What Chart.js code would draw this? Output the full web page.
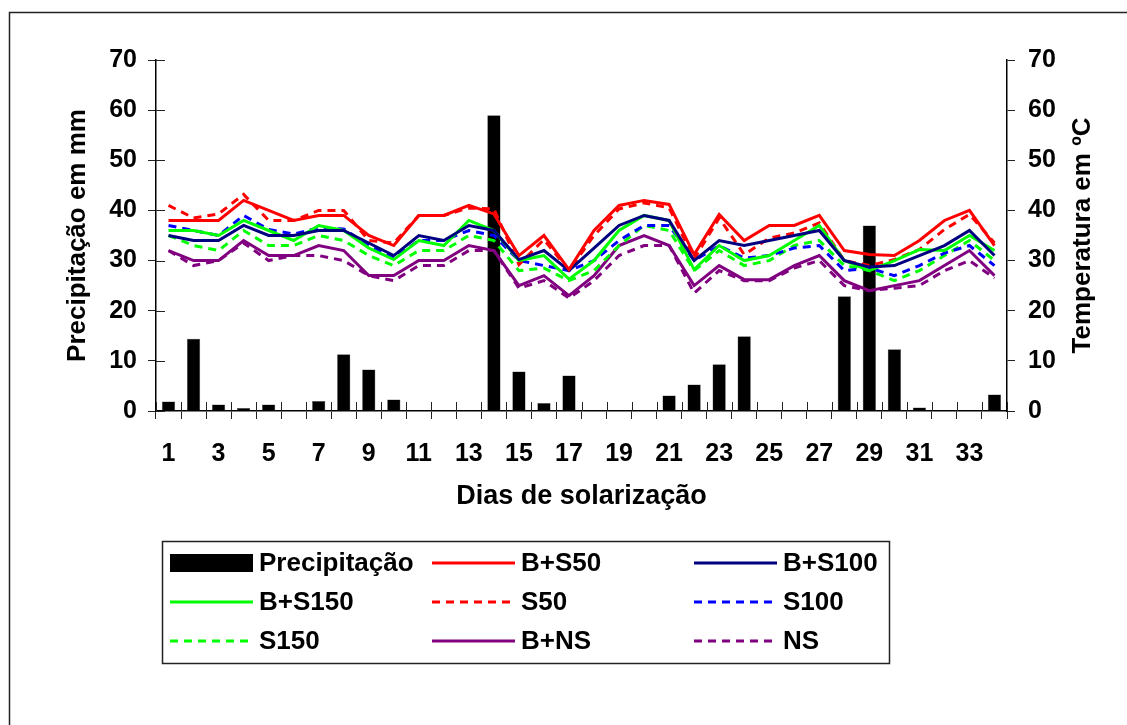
<!DOCTYPE html>
<html>
<head>
<meta charset="utf-8">
<script src="https://cdn.jsdelivr.net/npm/chart.js@4/dist/chart.umd.min.js"></script>
<style>
html,body{margin:0;padding:0;background:#fff;}
#wrap{width:1127px;height:725px;position:relative;}
</style>
</head>
<body>
<div id="wrap"><canvas id="c" width="1127" height="725"></canvas></div>
<script>
const days = Array.from({length:34}, (_, i) => String(i + 1));
const precipitacao = [1.9,14.4,1.3,0.6,1.3,0,2.0,11.3,8.3,2.3,0,0,0,59,7.9,1.6,7.1,0,0,0,3.1,5.3,9.3,14.9,0,0,0,22.9,37,12.3,0.7,0,0,3.3];
const bS50  = [38,38,38,42,40,38,39,39,35,33,39,39,41,39.3,31,35,28.2,36,41,42,41.2,31.2,39.2,34,37,37,39,32,31.2,31,34,38,40,33];
const bS100 = [35,34,34,37,35,35,36,36,33.5,31,35,34,37,36,30.2,32,28,32.5,37,39,38,30,34,33,34,35,36,30,28.7,29,31,33,36,31];
const bS150 = [36,36,35,38,36,34,37,36,32.5,30.2,34,33,38,36,30,31,26.3,30,36,39,38,28.2,33,30,31,34,37,30,28,30,32.2,32,35,32];
const s50   = [41,38.5,39.3,43.2,38,38,40,40,34,33.5,39,39,40.5,40.3,29.2,34.2,28,35,40.3,41.5,40.5,30.3,38.5,31.2,34.5,35.5,37.5,30,29,30.2,32.2,36.2,39.2,33.5];
const s100  = [37,36,35,39,36.2,35.3,36.5,36.3,33,30.5,34,34,36,35,30,29,28,30,34,37,37,30,33,30.5,31,32.5,33,28,28.5,27,29,31.5,33,29];
const s150  = [35,33,32,36,33,33,35,34,31,29,32,32,35,34,28,28.5,26,28,33,37,36,28,32,29,30,33,34,29,28,26,28,31,34,30];
const bNS   = [32,30,30,34,31,31,33,32,27,27,30,30,33,32,25,27,23,27,33,35,33,25,29,26.2,26.2,29,31,26,24,25,26,29,32,27];
const ns    = [32,29,30,33.5,30,31,31,30,27,26,29,29,32,32,24.5,26,22.5,26,31,33,33,23.5,28,26,26,28.5,30,25,24,24.5,25,28,30,26.5];
const yTicks = [0,10,20,30,40,50,60,70];

const FONT = '"Liberation Sans", Arial, sans-serif';
const DASH = [8,6];

function lineDs(label, data, color, dashed) {
  return {type:'line', label, data, yAxisID:'y2', borderColor:color, backgroundColor:color,
    borderWidth:3, borderDash: dashed ? DASH : [], pointRadius:0, tension:0, fill:false, order:0};
}

const datasets = [
  {type:'bar', label:'Precipitação', data:precipitacao, yAxisID:'y', backgroundColor:'#000',
   borderColor:'#555', borderWidth:0.5, barPercentage:0.53, categoryPercentage:1, order:1},
  lineDs('B+S50', bS50, '#FF0000', false),
  lineDs('B+S100', bS100, '#000080', false),
  lineDs('B+S150', bS150, '#00FF00', false),
  lineDs('S50', s50, '#FF0000', true),
  lineDs('S100', s100, '#0000FF', true),
  lineDs('S150', s150, '#00FF00', true),
  lineDs('B+NS', bNS, '#800080', false),
  lineDs('NS', ns, '#800080', true)
];

const deco = {
  id:'deco',
  afterDraw(chart) {
    const ctx = chart.ctx, ca = chart.chartArea;
    const xs = chart.scales.x, ys = chart.scales.y;
    ctx.save();
    // outer frame
    ctx.strokeStyle = '#222'; ctx.lineWidth = 1.5;
    ctx.strokeRect(9.5, 12.5, 1200, 800);
    // inner tick marks (crossing ticks) on left axis
    ctx.strokeStyle = '#222'; ctx.lineWidth = 1;
    yTicks.forEach(v => {
      const y = Math.round(ys.getPixelForValue(v)) + 0.5;
      ctx.beginPath(); ctx.moveTo(ca.left, y); ctx.lineTo(ca.left + 9, y); ctx.stroke();
    });
    // inner tick marks on x axis at category boundaries
    const step = xs.getPixelForValue(1) - xs.getPixelForValue(0);
    for (let i = 0; i <= days.length; i++) {
      const x = Math.round(xs.getPixelForValue(i) - step / 2) + 0.5;
      ctx.beginPath(); ctx.moveTo(x, ca.bottom); ctx.lineTo(x, ca.bottom - 9); ctx.stroke();
    }
    // axis titles
    ctx.fillStyle = '#000';
    ctx.textAlign = 'center'; ctx.textBaseline = 'middle';
    const cy = (ca.top + ca.bottom) / 2;
    ctx.font = 'bold 27px ' + FONT;
    ctx.fillText('Dias de solarização', (ca.left + ca.right) / 2, 497);
    ctx.font = 'bold 26px ' + FONT;
    ctx.save(); ctx.translate(78, cy); ctx.rotate(-Math.PI / 2);
    ctx.fillText('Precipitação em mm', 0, 0); ctx.restore();
    ctx.save(); ctx.translate(1083, cy); ctx.rotate(-Math.PI / 2);
    ctx.fillText('Temperatura em ºC', 0, 0); ctx.restore();
    // legend
    ctx.strokeStyle = '#222'; ctx.lineWidth = 1.5;
    ctx.strokeRect(162.5, 541.5, 727, 122);
    const colSample = [170, 432, 694], colText = [259, 521, 783], rowY = [563, 602, 641];
    ctx.font = 'bold 26px ' + FONT; ctx.textAlign = 'left';
    chart.data.datasets.forEach((ds, i) => {
      const r = Math.floor(i / 3), c = i % 3;
      const y = rowY[r];
      if (ds.type === 'bar') {
        ctx.fillStyle = '#000';
        ctx.fillRect(colSample[c], y - 9, 83, 18);
      } else {
        ctx.strokeStyle = ds.borderColor; ctx.lineWidth = 3;
        ctx.setLineDash(ds.borderDash || []);
        ctx.beginPath(); ctx.moveTo(colSample[c], y); ctx.lineTo(colSample[c] + 83, y); ctx.stroke();
        ctx.setLineDash([]);
      }
      ctx.fillStyle = '#000';
      ctx.fillText(ds.label, colText[c], y + 1);
    });
    ctx.restore();
  }
};

const tickFont = {family: FONT, size: 25, weight: 'bold'};

new Chart(document.getElementById('c'), {
  type: 'bar',
  data: {labels: days, datasets},
  options: {
    responsive: false,
    animation: false,
    layout: {padding: {top: 60, left: 0, right: 0, bottom: 0}},
    plugins: {legend: {display: false}, tooltip: {enabled: false}},
    scales: {
      x: {
        offset: true,
        grid: {offset: true, drawOnChartArea: false, drawTicks: true, tickLength: 8, color: '#222'},
        border: {display: true, color: '#000', width: 1.5},
        ticks: {autoSkip: false, maxRotation: 0, color: '#000', font: tickFont, padding: 20,
          callback: (v, i) => (i % 2 === 0 ? days[i] : '')},
        afterFit: s => { s.height = 314; }
      },
      y: {
        position: 'left', min: 0, max: 70,
        grid: {drawOnChartArea: false, drawTicks: true, tickLength: 8, color: '#222'},
        border: {display: true, color: '#000', width: 1.5},
        ticks: {stepSize: 10, color: '#000', font: tickFont, padding: 11},
        afterFit: s => { s.width = 156; }
      },
      y2: {
        position: 'right', min: 0, max: 70,
        grid: {drawOnChartArea: false, drawTicks: true, tickLength: 8, color: '#222'},
        border: {display: true, color: '#000', width: 1.5},
        ticks: {stepSize: 10, color: '#000', font: tickFont, padding: 13},
        afterFit: s => { s.width = 120; }
      }
    }
  },
  plugins: [deco]
});
</script>
</body>
</html>
